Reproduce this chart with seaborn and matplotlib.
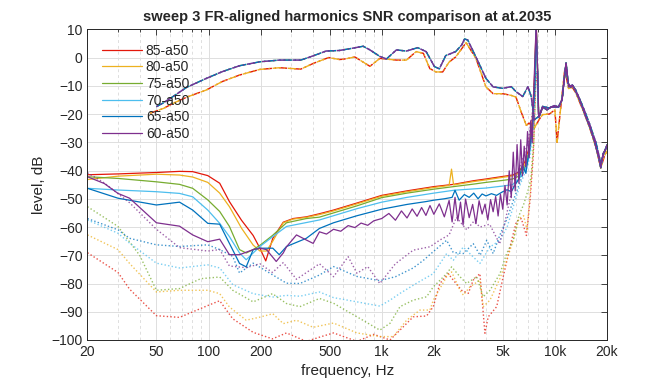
import matplotlib
matplotlib.use("Agg")
import matplotlib.pyplot as plt
import matplotlib.ticker as mticker
import seaborn as sns

labels = ["85-a50", "80-a50", "75-a50", "70-a50", "65-a50", "60-a50"]
colors = ["#E3170A", "#EDB120", "#77AC30", "#4DBEEE", "#0072BD", "#7E2F8E"]

# fundamental responses (dash-dot), upper and lower group
fund_hi_f = [50, 55, 62, 75, 97, 120, 151, 198, 257, 341, 402, 477, 570, 680, 781, 855, 975, 1065,
             1216, 1389, 1614, 1805, 2016, 2152, 2343, 2673, 2900, 3010, 3139, 3500, 4000, 4400,
             5000, 5600, 5970, 6520, 6990, 7300, 7600, 8100, 8500, 9300, 9900, 10500, 11000,
             11600, 12000, 12600, 13200, 14500, 15800, 17300, 18400, 19300, 20000]
fund_hi_db = [-17.4, -16, -13.9, -10.5, -7.4, -5, -2.9, -1.5, -0.9, -0.9, 0.6, 2.3, 2.5, 3.3, 4.0,
              2.7, 0.4, -0.5, 2.7, 2.3, 3.5, 2.1, -3.2, -4.0, 0.7, 2.1, 4.5, 6.6, 6.2, 0.2, -7.4,
              -10.4, -10.9, -10.3, -12.1, -13.8, -10.3, -13.8, -22, -20.8, -17.3, -17.9, -17,
              -17.5, -14.9, -1.9, -10.3, -9.7, -11.5, -17.3, -23.2, -30.3, -37.4, -33.3, -30.9]
fund_lo_f = [46, 55, 62.5, 75, 97, 120, 151, 198, 257, 341, 402, 494, 570, 601, 700, 781, 855, 975,
             1216, 1389, 1580, 1740, 1895, 2060, 2250, 2450, 2673, 2850, 3070, 3500, 4000, 4400,
             5000, 5600, 5960, 6390, 6840, 7100, 7600, 8100, 8500, 9300, 10000, 10300, 10800,
             11400, 12000, 12600, 13200, 14500, 15800, 17300, 18400, 19300, 20000]
fund_lo_db = [-19.7, -18, -16.2, -14, -11.5, -8.5, -6.2, -4.2, -3.6, -4.1, -2.1, 0, -0.7, -0.6, 0.2,
              -1.6, -3.1, -0.3, -0.9, -0.9, 2.1, 1.5, -3.9, -5.1, -5.1, -1.6, 0.2, 2.5, 5.3, -0.3,
              -10.4, -12.8, -12.8, -13.4, -14, -19.3, -24, -23.2, -25, -22, -20.2, -20, -18.5,
              -30, -17.9, -4.3, -11, -10.5, -12.5, -18.5, -24.5, -32, -39.1, -35, -33]

# common high-frequency tail of the harmonic curves
tail_f = [8100, 8500, 9000, 9500, 10000, 10500, 11000, 11300, 11600, 11900, 12300, 12700, 13200,
          14000, 15000, 16000, 17000, 18000, 18400, 19000, 19500, 20000]
tail_db = [-21, -17.5, -18.5, -17.5, -17.5, -17.5, -15, -8, -2, -9, -10.5, -10, -12, -15.5, -20.5,
           -25, -30, -36, -39, -34, -33, -31]

# harmonic SNR, solid lines
h85_f = [20, 30, 50, 68, 81, 99, 116, 132, 155, 181, 198, 214, 235, 270, 308, 367, 437, 527, 720,
         1000, 1400, 2000, 2600, 3400, 4000, 5000, 5700, 6200, 6700, 7100, 7400, 7650, 7800, 7950, 8050]
h85_db = [-41.5, -41.2, -40.7, -40.3, -40.4, -41.8, -44.5, -51, -57.6, -63, -67.5, -72, -64, -58.3,
          -57, -56.4, -55.3, -54, -51.5, -48.8, -47.2, -45.7, -44.9, -43.6, -43, -42.1, -41.6, -40.5,
          -37, -32, -22, -5, 12, -5, -20]
h80_f = [20, 30, 50, 68, 81, 99, 116, 132, 155, 181, 198, 216, 235, 270, 308, 367, 437, 527, 720,
         1000, 1400, 2000, 2450, 2530, 2600, 3400, 4000, 5000, 5700, 6200, 6700, 7100, 7400, 7650,
         7800, 7950, 8050]
h80_db = [-43.2, -42, -41.3, -41.6, -42.3, -44.2, -48, -52.8, -60.4, -66.4, -68.5, -68.5, -65, -58.5,
          -57.2, -56.6, -55.6, -54.3, -51.8, -49.1, -47.5, -46, -45.3, -39.5, -45.1, -43.9, -43.3,
          -42.4, -41.9, -41, -38, -33, -24, -7, 12, -6, -20]
h75_f = [20, 30, 50, 68, 81, 99, 116, 132, 151, 165, 181, 198, 234, 282, 367, 437, 527, 720, 1000,
         1400, 2000, 2600, 3400, 4000, 5000, 5700, 6200, 6700, 7100, 7400, 7650, 7800, 7950, 8050]
h75_db = [-42.2, -42.8, -44, -44.9, -46.3, -50.4, -54.5, -59.8, -68, -69.2, -68, -66.5, -63, -58.5,
          -57, -56.5, -55, -52.5, -49.6, -48, -46.6, -45.7, -44.8, -44.2, -43.5, -43, -42, -39, -34,
          -25, -8, 11, -6, -20]
h70_f = [20, 30, 50, 68, 81, 99, 116, 132, 151, 165, 181, 198, 235, 282, 437, 527, 720, 1000, 1400,
         2000, 2600, 3400, 4000, 5000, 5700, 6200, 6700, 7100, 7400, 7650, 7800, 7950, 8050]
h70_db = [-46.3, -46.9, -47.5, -48.1, -49.3, -54, -58.7, -63.4, -69.2, -71.6, -69.2, -66.9, -63.4,
          -59.8, -57.5, -56, -53.5, -51.2, -49.5, -48, -47, -46.5, -46.2, -45.5, -45, -43, -40, -35,
          -27, -10, 10, -6, -20]
h65_f = [20, 30, 50, 68, 81, 99, 116, 132, 151, 165, 181, 198, 235, 256, 282, 367, 437, 527, 720,
         1000, 1400, 1800, 2000, 2300, 2550, 2650, 2800, 3000, 3200, 3400, 3600, 3800, 4000, 4300,
         4600, 5000, 5300, 5600, 5900, 6200, 6500, 6800, 7100, 7400, 7650, 7800, 7950, 8050]
h65_db = [-46.3, -49.8, -52.2, -51.2, -54, -58.7, -59, -65.8, -72.9, -74.1, -68, -67.5, -67.5, -69.8,
          -66.9, -64, -60.5, -58.5, -56, -53.7, -52, -51, -50.5, -50, -49.5, -47, -50.5, -48.5,
          -49.5, -48, -50, -48.3, -49, -48.2, -48.8, -47.5, -46.8, -47.5, -45, -43, -38, -41, -33,
          -25, -10, 11, -5, -20]
h60_f = [20, 25, 30, 35, 50, 68, 81, 99, 116, 132, 151, 181, 198, 216, 246, 270, 282, 322, 367, 402,
         437, 480, 527, 580, 640, 700, 760, 830, 900, 1000, 1100, 1200, 1300, 1400, 1500, 1600, 1700,
         1800, 1900, 2000, 2150, 2300, 2450, 2550, 2650, 2750, 2850, 2950, 3050, 3200, 3350, 3500,
         3650, 3800, 3950, 4100, 4250, 4400, 4550, 4700, 4850, 5000, 5150, 5300, 5450, 5600, 5750,
         5900, 6050, 6200, 6350, 6500, 6650, 6800, 6950, 7100, 7250, 7400, 7550, 7700, 7800, 7950,
         8050]
h60_db = [-42.2, -44.6, -48.1, -49.8, -58.5, -59.7, -62.8, -65.2, -64.3, -69.8, -69.8, -68, -67.5,
          -68, -72.2, -69.2, -67, -62.8, -64.6, -65.8, -61.7, -62.5, -60.8, -61.5, -59.5, -60.2,
          -58.6, -59.4, -57.8, -57, -55.2, -57.6, -54.3, -56.8, -53.6, -56.2, -53.1, -55.9, -52.4,
          -55.5, -51.8, -56.4, -50.6, -58.2, -49.5, -57.8, -51.2, -59.3, -50.1, -56.7, -52, -58.8,
          -50.7, -55.4, -51.9, -57.5, -50.3, -54.6, -49.2, -56.1, -48.4, -53.7, -45.3, -52.2, -40.1,
          -49.6, -33.5, -47.2, -30.8, -44.5, -29.1, -41.8, -31.4, -38.7, -26.2, -35.5, -22.4, -30.2,
          -12, 3, 12, -5, -20]

# harmonic SNR, dotted lines
d85_f = [20, 30, 35, 50, 68, 99, 116, 138, 181, 234, 282, 367, 437, 527, 720, 900, 1116, 1275, 1520,
         1816, 1985, 2168, 2422, 2589, 2893, 3161, 3377, 3690, 3945, 4122, 4612, 5030, 5623, 6000,
         6400, 6850, 7200, 7500, 7750, 7950, 8050]
d85_db = [-69.1, -76.1, -82, -91.4, -92, -87.8, -86.1, -92.5, -97.3, -99.6, -97.5, -100.5, -99,
          -97.5, -100.5, -98, -100, -96.5, -91.8, -91.5, -88.2, -80, -76.5, -78.8, -82.4, -83.5,
          -78.8, -76.5, -97.6, -91.8, -88.2, -77.6, -64.7, -58, -57, -63, -50, -35, -10, -5, -20]
d80_f = [20, 30, 35, 50, 68, 99, 116, 132, 165, 198, 235, 270, 322, 402, 527, 720, 975, 1166, 1393,
         1663, 1898, 1985, 2371, 2534, 2831, 2958, 3230, 3690, 3856, 4217, 4818, 5266, 5748, 6200,
         6600, 6900, 7200, 7500, 7750, 7950, 8050]
d80_db = [-62.8, -68, -72.9, -83, -82.4, -82.4, -83.6, -88.3, -93, -91.9, -90.7, -94.2, -93, -95.5,
          -94, -97.5, -98.8, -98.8, -93, -89.4, -89.4, -85.9, -77.6, -75.9, -82.4, -84.1, -81.2,
          -78.8, -88.2, -85.9, -78.2, -71.8, -64.7, -57, -56, -61, -48, -32, -8, -5, -20]
d75_f = [20, 30, 40, 50, 68, 90, 116, 138, 181, 234, 282, 337, 437, 527, 720, 975, 1116, 1275, 1520,
         1816, 1985, 2371, 2534, 2831, 3091, 3535, 3856, 4217, 4818, 5266, 5748, 6200, 6600, 7000,
         7300, 7550, 7750, 7950, 8050]
d75_db = [-52.8, -59.8, -70, -82.4, -81.8, -78.3, -77.7, -82.4, -86.5, -83.6, -87.1, -88.2, -85.3,
          -87, -91.8, -96.5, -94.1, -88.2, -85.9, -84.7, -81.2, -76.5, -74.1, -77.6, -80, -77.6,
          -84.7, -82.4, -76.5, -69.4, -64.7, -56, -52, -47, -42, -30, -8, -5, -20]
d70_f = [20, 30, 35, 50, 68, 99, 116, 138, 181, 234, 282, 337, 437, 527, 720, 975, 1116, 1275, 1580,
         1985, 2371, 2589, 2958, 3300, 3690, 4217, 4818, 5300, 5800, 6300, 6800, 7200, 7500, 7750,
         7950, 8050]
d70_db = [-57.5, -62.2, -65.7, -72.8, -74.5, -73.4, -74.5, -80.4, -83.6, -84.8, -84.2, -84.5, -83,
          -85, -86.5, -88, -85.9, -83.5, -80, -76.5, -69.4, -71.8, -67.1, -70, -72.9, -67.1, -64.7,
          -60, -52, -45, -40, -35, -25, -8, -5, -20]
d65_f = [20, 30, 35, 50, 68, 99, 116, 138, 151, 181, 234, 282, 337, 437, 527, 720, 975, 1200, 1520,
         1740, 2030, 2371, 2589, 2958, 3377, 3700, 4040, 4400, 4800, 5300, 5800, 6300, 6800, 7200,
         7500, 7750, 7950, 8050]
d65_db = [-57, -61, -64, -66.3, -66.9, -66.3, -68, -70.4, -76.3, -72.8, -76.9, -79.9, -80, -77, -74,
          -77.5, -79, -77.6, -74.5, -71.8, -68.2, -64.7, -69, -69.4, -65.9, -70, -64.7, -69.4, -63,
          -57, -50, -44, -38, -32, -22, -6, -5, -20]
d60_f = [20, 25, 35, 50, 68, 99, 116, 132, 165, 198, 234, 270, 322, 437, 527, 640, 720, 830, 975,
         1200, 1520, 1898, 2168, 2450, 2700, 3100, 3400, 3700, 4200, 4800, 5200, 5600, 6000, 6500,
         7000, 7400, 7700, 7950, 8050]
d60_db = [-40.8, -44.4, -51.4, -60.8, -67.3, -68.5, -68, -73.8, -74.4, -73, -76.1, -72.6, -78.5, -73,
          -77.6, -70.5, -76.4, -74, -80, -73, -68.2, -67, -64.6, -62.8, -56.6, -61, -58, -60, -59,
          -66, -57, -48, -42, -36, -30, -20, -5, -5, -20]

solid_f = [h85_f, h80_f, h75_f, h70_f, h65_f, h60_f]
solid_db = [h85_db, h80_db, h75_db, h70_db, h65_db, h60_db]
dot_f = [d85_f, d80_f, d75_f, d70_f, d65_f, d60_f]
dot_db = [d85_db, d80_db, d75_db, d70_db, d65_db, d60_db]
fund_group = ["lo", "lo", "hi", "hi", "hi", "hi"]

sns.set_theme(style="white")
plt.rcParams["font.family"] = ["Liberation Sans", "DejaVu Sans"]

fig = plt.figure(figsize=(6.72, 3.84), dpi=100)
ax = fig.add_axes([0.1302, 0.1146, 0.7731, 0.8091])

for i in range(6):
    if fund_group[i] == "hi":
        ff, fd = fund_hi_f, fund_hi_db
    else:
        ff, fd = fund_lo_f, fund_lo_db
    dash = (0, (6, 2, 1, 2)) if i % 2 == 0 else (4.5, (6, 2, 1, 2))
    sns.lineplot(x=ff, y=fd, ax=ax, color=colors[i], linestyle=dash, lw=1.0,
                 sort=False, estimator=None, errorbar=None)
    sns.lineplot(x=dot_f[i] + tail_f, y=dot_db[i] + tail_db, ax=ax, color=colors[i],
                 linestyle=(0, (1, 1.6)), lw=1.0, alpha=0.75,
                 sort=False, estimator=None, errorbar=None)
    sns.lineplot(x=solid_f[i] + tail_f, y=solid_db[i] + tail_db, ax=ax, color=colors[i],
                 lw=0.9, label=labels[i], sort=False, estimator=None, errorbar=None)

ax.set_xscale("log")
ax.set_xlim(20, 20000)
ax.set_ylim(-100, 10)
major = [20, 50, 100, 200, 500, 1000, 2000, 5000, 10000, 20000]
ax.xaxis.set_major_locator(mticker.FixedLocator(major))
ax.xaxis.set_major_formatter(mticker.FixedFormatter(
    ["20", "50", "100", "200", "500", "1k", "2k", "5k", "10k", "20k"]))
minor = [m * d for d in [10, 100, 1000, 10000] for m in range(2, 10) if 20 <= m * d <= 20000 and m * d not in major]
ax.xaxis.set_minor_locator(mticker.FixedLocator(minor))
ax.xaxis.set_minor_formatter(mticker.NullFormatter())
ax.set_yticks(range(-100, 11, 10))

ax.grid(which="major", color="#dedede", lw=0.7, ls="-")
ax.grid(which="minor", axis="x", color="#dedede", lw=0.7, ls=(0, (3, 3)))
ax.set_axisbelow(True)
ax.tick_params(which="both", direction="in", top=True, right=True, colors="#262626",
               labelsize=10, width=0.6)
ax.tick_params(which="major", length=4)
ax.tick_params(which="minor", length=2)
for s in ax.spines.values():
    s.set_color("#262626")
    s.set_linewidth(0.7)

ax.set_xlabel("frequency, Hz", fontsize=11, color="#262626", labelpad=4)
ax.set_ylabel("level, dB", fontsize=11, color="#262626", labelpad=4)
ax.set_title("sweep 3 FR-aligned harmonics SNR comparison at at.2035",
             fontweight="bold", fontsize=10.5, pad=6)

ax.legend(loc="upper left", bbox_to_anchor=(0.028, 0.954), borderaxespad=0, borderpad=0,
          frameon=False, fontsize=10, handlelength=2.9, handletextpad=0.25, labelspacing=0.19)

fig.savefig("out.png", dpi=100)
